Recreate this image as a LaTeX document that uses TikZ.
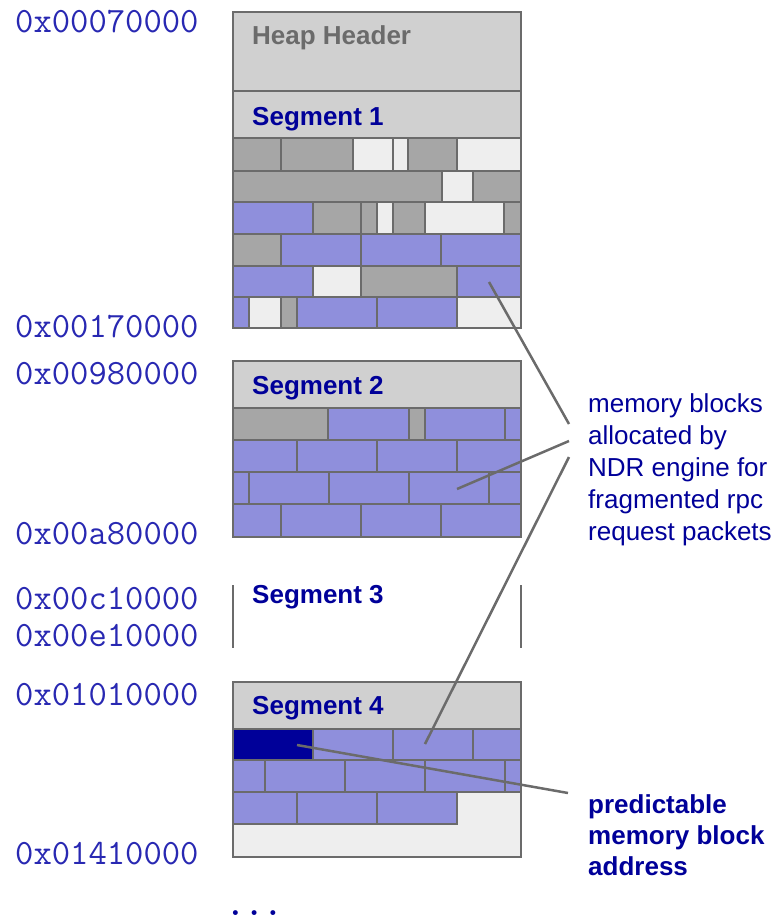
\documentclass[tikz,border=0pt]{standalone}
\usepackage{fontspec}
\setmainfont{Liberation Sans}
\usetikzlibrary{positioning}

\definecolor{hdrgray}{RGB}{208,208,208}
\definecolor{usedgray}{RGB}{166,166,166}
\definecolor{freegray}{RGB}{238,238,238}
\definecolor{ndrblue}{RGB}{143,143,220}
\definecolor{targetblue}{RGB}{0,0,153}
\definecolor{addrblue}{RGB}{40,40,178}
\definecolor{edgegray}{RGB}{107,107,107}

\begin{document}
\begin{tikzpicture}[
            x=1pt, y=-1pt,
            blk/.style={draw=edgegray, line width=1.5pt},
            frame/.style={draw=edgegray, line width=2.5pt},
            seglabel/.style={anchor=base west, inner sep=0pt, text=targetblue, font=\bfseries\fontsize{26}{32}\selectfont},
            addr/.style={anchor=base west, inner sep=0pt, text=addrblue, font=\ttfamily\fontsize{35.6}{40}\selectfont},
            note/.style={anchor=north west, inner sep=0pt, align=left, text=targetblue, font=\fontsize{26}{32}\selectfont},
            callout/.style={draw=edgegray, line width=2.5pt}
            ]
        \useasboundingbox (0,0) rectangle (776,919);

        % Segment 1
        \draw[blk, fill=hdrgray] (233,12) rectangle (521,91);
        \draw[blk, fill=hdrgray] (233,91) rectangle (521,138);
        \foreach \a/\b/\c in {233/281/usedgray, 281/353/usedgray, 353/393/freegray, 393/408/freegray, 408/457/usedgray, 457/521/freegray}
            \draw[blk, fill=\c] (\a,138) rectangle (\b,171);
        \foreach \a/\b/\c in {233/442/usedgray, 442/473/freegray, 473/521/usedgray}
            \draw[blk, fill=\c] (\a,171) rectangle (\b,202);
        \foreach \a/\b/\c in {233/313/ndrblue, 313/361/usedgray, 361/377/usedgray, 377/393/freegray, 393/425/usedgray, 425/504/freegray, 504/521/usedgray}
            \draw[blk, fill=\c] (\a,202) rectangle (\b,234);
        \foreach \a/\b/\c in {233/281/usedgray, 281/361/ndrblue, 361/441/ndrblue, 441/521/ndrblue}
            \draw[blk, fill=\c] (\a,234) rectangle (\b,266);
        \foreach \a/\b/\c in {233/313/ndrblue, 313/361/freegray, 361/457/usedgray, 457/521/ndrblue}
            \draw[blk, fill=\c] (\a,266) rectangle (\b,297);
        \foreach \a/\b/\c in {233/249/ndrblue, 249/281/freegray, 281/297/usedgray, 297/377/ndrblue, 377/457/ndrblue, 457/521/freegray}
            \draw[blk, fill=\c] (\a,297) rectangle (\b,328);
        \draw[frame] (233,12) rectangle (521,328);

        % Segment 2
        \draw[blk, fill=hdrgray] (233,361) rectangle (521,408);
        \foreach \a/\b/\c in {233/328/usedgray, 328/409/ndrblue, 409/425/usedgray, 425/505/ndrblue, 505/521/ndrblue}
            \draw[blk, fill=\c] (\a,408) rectangle (\b,440);
        \foreach \a/\b in {233/297, 297/377, 377/457, 457/521}
            \draw[blk, fill=ndrblue] (\a,440) rectangle (\b,472);
        \foreach \a/\b in {233/249, 249/329, 329/409, 409/489, 489/521}
            \draw[blk, fill=ndrblue] (\a,472) rectangle (\b,504);
        \foreach \a/\b in {233/281, 281/361, 361/441, 441/521}
            \draw[blk, fill=ndrblue] (\a,504) rectangle (\b,537);
        \draw[frame] (233,361) rectangle (521,537);

        % Segment 3
        \draw[frame] (233,585) -- (233,648);
        \draw[frame] (521,585) -- (521,648);

        % Segment 4
        \draw[blk, fill=hdrgray] (233,682) rectangle (521,729);
        \draw[blk, fill=targetblue] (233,729) rectangle (313,760);
        \foreach \a/\b in {313/393, 393/473, 473/521}
            \draw[blk, fill=ndrblue] (\a,729) rectangle (\b,760);
        \foreach \a/\b in {233/265, 265/345, 345/425, 425/505, 505/521}
            \draw[blk, fill=ndrblue] (\a,760) rectangle (\b,792);
        \foreach \a/\b in {233/297, 297/377, 377/457}
            \draw[blk, fill=ndrblue] (\a,792) rectangle (\b,824);
        \draw[blk, fill=freegray] (457,792) -- (521,792) -- (521,857) -- (233,857) -- (233,824) -- (457,824) -- cycle;
        \draw[frame] (233,682) rectangle (521,857);

        % Beschriftungen
        \node[seglabel, text=edgegray] (hh) at (252,44) {Heap Header};
        \node[seglabel] (s1) at (252,125) {Segment 1};
        \node[seglabel] (s2) at (252,394) {Segment 2};
        \node[seglabel] (s3) at (252,603) {Segment 3};
        \node[seglabel] (s4) at (252,714) {Segment 4};

        % Adressen
        \node[addr] (a1) at (15,32) {0x00070000};
        \node[addr] (a2) at (15,337) {0x00170000};
        \node[addr] (a3) at (15,384) {0x00980000};
        \node[addr] (a4) at (15,544) {0x00a80000};
        \node[addr] (a5) at (15,609) {0x00c10000};
        \node[addr] (a6) at (15,646) {0x00e10000};
        \node[addr] (a7) at (15,705) {0x01010000};
        \node[addr] (a8) at (15,864) {0x01410000};
        \node[addr, text=targetblue, font=\ttfamily\bfseries\fontsize{35.6}{40}\selectfont] (more) at (226,915) {...};

        % Hinweise
        \node[note] (ndrnote) at (588,393) {memory blocks\\allocated by\\NDR engine for\\fragmented rpc\\request packets};
        \node[note, font=\bfseries\fontsize{26}{31}\selectfont] (prednote) at (588,794) {predictable\\memory block\\address};

        \coordinate (b1) at (489,282);
        \coordinate (b2) at (457,489);
        \coordinate (b3) at (425,744);
        \coordinate (b4) at (297,745);
        \coordinate (n1) at (569,424);
        \coordinate (n2) at (569,441);
        \coordinate (n3) at (569,457);
        \coordinate (n4) at (568,793);
        \draw[callout] (b1) -- (n1);
        \draw[callout] (b2) -- (n2);
        \draw[callout] (b3) -- (n3);
        \draw[callout] (b4) -- (n4);
        \end{tikzpicture}
\end{document}
